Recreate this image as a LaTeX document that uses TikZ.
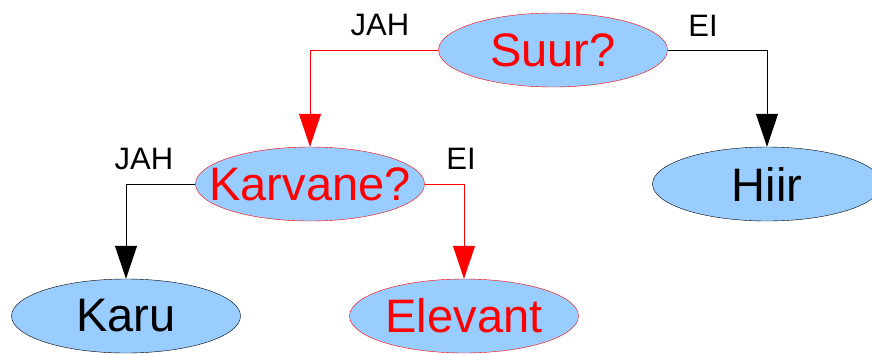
\documentclass[tikz,border=0pt]{standalone}
\usepackage{fontspec}
\setmainfont{Liberation Sans}
\usetikzlibrary{shapes.geometric,arrows.meta}
\definecolor{nodeblue}{HTML}{99CCFF}
% ellipse size stays fixed whatever the width of the text inside
\newcommand{\fixedtext}[1]{\makebox[0pt]{#1}}
\tikzset{
  x=1pt, y=-1pt,
  question/.style={ellipse, draw=red, fill=nodeblue, text=red, inner sep=0pt,
    minimum width=229pt, minimum height=74pt, font=\fontsize{47}{47}\selectfont},
  answer/.style={ellipse, draw=black, fill=nodeblue, text=black, inner sep=0pt,
    minimum width=229pt, minimum height=74pt, font=\fontsize{47}{47}\selectfont},
  redanswer/.style={answer, draw=red, text=red},
  branch/.style={font=\fontsize{31}{31}\selectfont, inner sep=0pt},
  edge/.style={line width=1pt, -{Triangle[length=33pt,width=22pt]}},
}
\begin{document}
\begin{tikzpicture}
  \useasboundingbox (0,0) rectangle (872,354);
  \clip (0,0) rectangle (872,354);
  \fill[white] (0,0) rectangle (872,354);

  % decision nodes
  \node[question] (suur) at (553,50) {\fixedtext{Suur?}};
  \node[question] (karv) at (310,184) {\fixedtext{Karvane?}};
  % leaves
  \node[answer] (hiir) at (767,184) {\fixedtext{Hiir}};
  \node[answer] (karu) at (126,316) {\fixedtext{Karu}};
  \node[redanswer] (elev) at (464,316) {\fixedtext{Elevant}};

  % branch labels
  \node[branch] (l1) at (380,25) {JAH};
  \node[branch] (l2) at (703,26) {EI};
  \node[branch] (l3) at (144,159) {JAH};
  \node[branch] (l4) at (461,159) {EI};

  % connectors
  \draw[edge, red] (suur.west) -| (karv.north);
  \draw[edge, black] (suur.east) -| (hiir.north);
  \draw[edge, black] (karv.west) -| (karu.north);
  \draw[edge, red] (karv.east) -| (elev.north);
\end{tikzpicture}
\end{document}
